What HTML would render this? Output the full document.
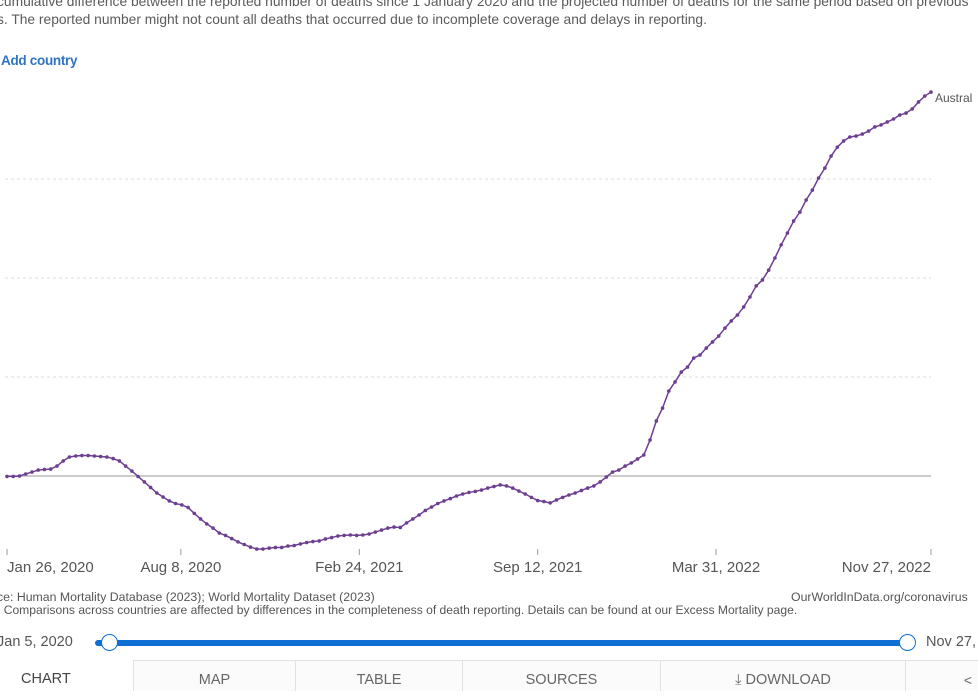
<!DOCTYPE html>
<html><head><meta charset="utf-8">
<style>
body{margin:0;width:978px;height:690px;overflow:hidden;background:#fff;font-family:"Liberation Sans",sans-serif;position:relative}
.t{position:absolute;white-space:nowrap}
</style></head>
<body>
<div class="t" style="left:-3px;top:-6px;font-size:13.8px;color:#5b5b5b">cumulative difference between the reported number of deaths since 1 January 2020 and the projected number of deaths for the same period based on previous</div>
<div class="t" style="left:-3px;top:12px;font-size:13.8px;color:#5b5b5b">s. The reported number might not count all deaths that occurred due to incomplete coverage and delays in reporting.</div>
<div class="t" style="left:1px;top:53px;font-size:13.5px;color:#2f73c4;font-weight:bold;letter-spacing:-0.3px">Add country</div>

<svg id="chart" width="978" height="590" style="position:absolute;left:0;top:0"></svg>

<div class="t" style="left:-3px;top:590px;font-size:12.3px;color:#555">ce: Human Mortality Database (2023); World Mortality Dataset (2023)</div>
<div class="t" style="left:791px;top:590px;font-size:12.3px;color:#555">OurWorldInData.org/coronavirus</div>
<div class="t" style="left:-3px;top:603px;font-size:12.1px;color:#555">: Comparisons across countries are affected by differences in the completeness of death reporting. Details can be found at our Excess Mortality page.</div>

<div class="t" style="left:-3px;top:634px;font-size:14.5px;color:#555">Jan 5, 2020</div>
<div style="position:absolute;left:95px;top:640px;width:814px;height:6px;background:#0f6fd4;border-radius:3px"></div>
<div style="position:absolute;left:101px;top:634px;width:15px;height:15px;border:1.5px solid #0f6fd4;border-radius:50%;background:#fff"></div>
<div style="position:absolute;left:899px;top:634px;width:15px;height:15px;border:1.5px solid #0f6fd4;border-radius:50%;background:#fff"></div>
<div class="t" style="left:926px;top:634px;font-size:14.5px;color:#555">Nov 27,</div>

<div style="position:absolute;left:0;top:660px;width:978px;height:30px;">
 <div style="position:absolute;left:21px;top:0;height:30px;line-height:38px;font-size:14.5px;color:#444">CHART</div>
 <div style="position:absolute;left:133px;top:0;width:161px;height:30px;border:1px solid #e2e2e2;border-bottom:none;background:#fbfbfb;text-align:center;line-height:38px;font-size:14.5px;color:#666">MAP</div>
 <div style="position:absolute;left:295px;top:0;width:166px;height:30px;border:1px solid #e2e2e2;border-bottom:none;background:#fbfbfb;text-align:center;line-height:38px;font-size:14.5px;color:#666">TABLE</div>
 <div style="position:absolute;left:462px;top:0;width:197px;height:30px;border:1px solid #e2e2e2;border-bottom:none;background:#fbfbfb;text-align:center;line-height:38px;font-size:14.5px;color:#666">SOURCES</div>
 <div style="position:absolute;left:660px;top:0;width:244px;height:30px;border:1px solid #e2e2e2;border-bottom:none;background:#fbfbfb;text-align:center;line-height:38px;font-size:14.5px;color:#666">⤓ DOWNLOAD</div>
 <div style="position:absolute;left:905px;top:0;width:80px;height:30px;border:1px solid #e2e2e2;border-bottom:none;background:#fbfbfb;text-align:right;padding-right:12px;box-sizing:border-box;line-height:38px;font-size:14px;color:#666">&lt;</div>
</div>

<script>
const startDate = "2020-01-26";
const values = [-20,-20,0,100,200,300,330,350,500,760,960,1010,1035,1035,1010,985,960,880,760,500,250,-25,-300,-580,-860,-1060,-1260,-1390,-1460,-1590,-1890,-2170,-2420,-2630,-2880,-3000,-3160,-3330,-3460,-3590,-3690,-3690,-3640,-3610,-3610,-3540,-3510,-3430,-3360,-3310,-3280,-3180,-3110,-3030,-3000,-2980,-3000,-2980,-2930,-2830,-2730,-2630,-2580,-2600,-2370,-2170,-1970,-1740,-1570,-1390,-1260,-1140,-1010,-910,-830,-780,-710,-610,-530,-450,-500,-610,-760,-910,-1080,-1240,-1290,-1360,-1210,-1080,-960,-860,-730,-610,-500,-300,-50,200,300,500,660,860,1060,1820,2780,3430,4290,4750,5250,5500,5960,6110,6460,6770,7070,7470,7830,8130,8540,9040,9600,9900,10400,11010,11670,12270,12880,13330,13940,14440,15050,15550,16160,16610,16920,17120,17170,17270,17420,17630,17730,17880,18030,18230,18330,18540,18890,19190,19390];
const tickDates = ["2020-01-26","2020-08-08","2021-02-24","2021-09-12","2022-03-31","2022-11-27"];
const tickLabels = ["Jan 26, 2020","Aug 8, 2020","Feb 24, 2021","Sep 12, 2021","Mar 31, 2022","Nov 27, 2022"];
const gridValues = [5000,10000,15000];
const seriesName = "Austral";

const NS="http://www.w3.org/2000/svg";
const svg=document.getElementById('chart');
const d0=Date.parse(tickDates[0]), d1=Date.parse(tickDates[tickDates.length-1]);
function xScale(t){return 7+(t-d0)/(d1-d0)*924;}
function yScale(v){return 476-v/5000*99;}
function mk(tag,attrs){const e=document.createElementNS(NS,tag);for(const k in attrs)e.setAttribute(k,attrs[k]);svg.appendChild(e);return e;}

gridValues.forEach(g=>{
  const l=mk('line',{x1:5,x2:931,y1:yScale(g),y2:yScale(g),stroke:'#ddd','stroke-dasharray':'3,3'});
  
  
});
const z=mk('line',{x1:5,x2:931,y1:yScale(0),y2:yScale(0),stroke:'#bbb','stroke-width':1.5});



tickDates.forEach((d,i)=>{
  const x=xScale(Date.parse(d));
  const tk=mk('line',{x1:x,x2:x,y1:549,y2:555,stroke:'#999'});
  
  
  const anchor=i===0?'start':(i===tickDates.length-1?'end':'middle');
  const tx=mk('text',{x:x,y:572,'font-size':15,fill:'#555','text-anchor':anchor,'font-family':'Liberation Sans, sans-serif'});
  tx.textContent=tickLabels[i];
  
  
});

const pts=values.map((v,i)=>[xScale(d0+i*7*86400000),yScale(v)]);
const path=mk('polyline',{points:pts.map(p=>p.join(',')).join(' '),fill:'none',stroke:'#6d3e91','stroke-width':1.5});


pts.forEach(p=>{
  const c=mk('circle',{cx:p[0],cy:p[1],r:1.8,fill:'#6d3e91'});
  
  
});
const last=pts[pts.length-1];
const lb=mk('text',{x:last[0]+4,y:last[1]+10,'font-size':12,fill:'#555','font-family':'Liberation Sans, sans-serif'});
lb.textContent=seriesName;


</script>
</body></html>
